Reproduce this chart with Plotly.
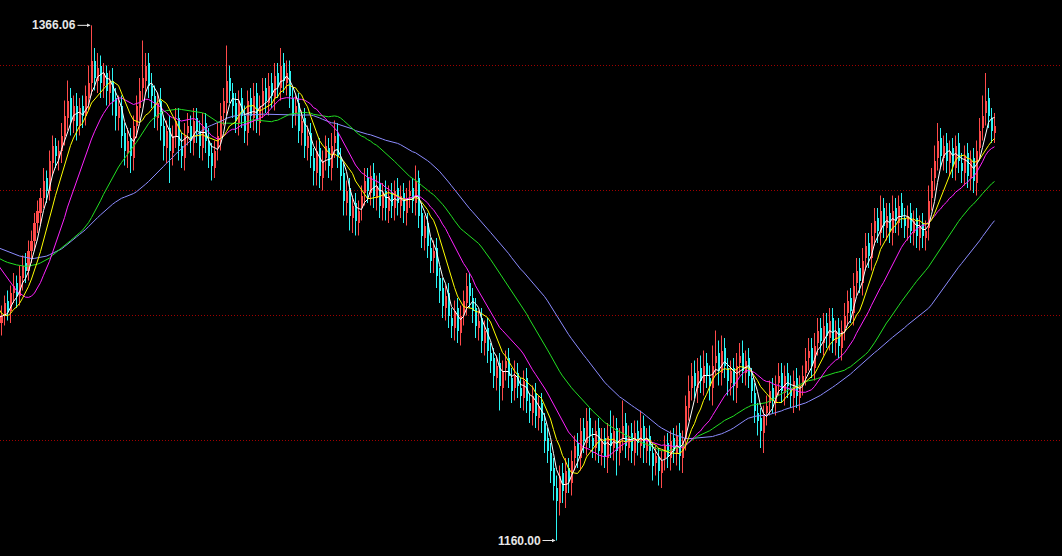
import plotly.graph_objects as go
import pandas as pd

# closes before the visible window (only used to seed the moving averages)
warmup_close = [
    1280, 1284, 1288, 1286, 1290, 1287, 1283, 1285, 1289, 1292,
    1288, 1284, 1281, 1285, 1288, 1284, 1280, 1283, 1286, 1282,
    1279, 1275, 1272, 1276, 1273, 1270, 1274, 1278, 1275, 1271,
    1273, 1277, 1280, 1276, 1279, 1282, 1278, 1274, 1277, 1281,
    1284, 1288, 1292, 1289, 1293, 1290, 1286, 1288, 1282, 1278,
    1270, 1262, 1255, 1250, 1246, 1248, 1252, 1249, 1246, 1251,
]

opens = [
    1247, 1250, 1256, 1252, 1259, 1263, 1258, 1265, 1271, 1268,
    1276, 1280, 1287, 1291, 1297, 1305, 1300, 1311, 1318, 1313,
    1316, 1322, 1329, 1337, 1328, 1334, 1326, 1334, 1330, 1337,
    1343, 1352, 1344, 1350, 1342, 1347, 1339, 1344, 1337, 1329,
    1334, 1323, 1315, 1321, 1313, 1326, 1333, 1341, 1344, 1351,
    1342, 1338, 1329, 1336, 1326, 1317, 1325, 1315, 1322, 1329,
    1318, 1313, 1323, 1326, 1319, 1329, 1324, 1317, 1327, 1320,
    1315, 1309, 1317, 1321, 1331, 1335, 1345, 1339, 1335, 1327,
    1337, 1330, 1323, 1337, 1329, 1339, 1327, 1334, 1341, 1335,
    1343, 1337, 1347, 1341, 1351, 1343, 1348, 1337, 1331, 1335,
    1323, 1329, 1317, 1323, 1313, 1307, 1317, 1305, 1313, 1317,
    1309, 1319, 1323, 1313, 1307, 1295, 1301, 1289, 1295, 1287,
    1293, 1299, 1305, 1299, 1307, 1297, 1303, 1293, 1300, 1292,
    1299, 1293, 1301, 1294, 1299, 1291, 1298, 1301, 1295, 1305,
    1291, 1281, 1287, 1277, 1273, 1277, 1265, 1261, 1253, 1259,
    1249, 1245, 1253, 1243, 1251, 1255, 1263, 1257, 1253, 1245,
    1249, 1239, 1245, 1235, 1233, 1225, 1231, 1221, 1229, 1233,
    1225, 1221, 1227, 1221, 1217, 1225, 1215, 1211, 1219, 1209,
    1215, 1207, 1201, 1195, 1189, 1181, 1175, 1187, 1179, 1189,
    1183, 1193, 1199, 1193, 1205, 1199, 1209, 1201, 1197, 1205,
    1195, 1201, 1193, 1203, 1197, 1205, 1195, 1201, 1207, 1197,
    1203, 1195, 1204, 1198, 1206, 1196, 1202, 1195, 1191, 1193,
    1187, 1193, 1199, 1193, 1201, 1195, 1203, 1193, 1201, 1213,
    1221, 1227, 1221, 1229, 1223, 1231, 1225, 1221, 1231, 1235,
    1227, 1237, 1229, 1223, 1229, 1221, 1231, 1235, 1227, 1233,
    1225, 1219, 1211, 1209, 1203, 1211, 1215, 1221, 1215, 1223,
    1227, 1219, 1227, 1221, 1217, 1225, 1217, 1223, 1227, 1233,
    1237, 1229, 1239, 1245, 1239, 1247, 1241, 1249, 1239, 1245,
    1237, 1245, 1251, 1257, 1251, 1263, 1269, 1263, 1273, 1279,
    1273, 1283, 1289, 1283, 1293, 1285, 1291, 1283, 1293, 1287,
    1295, 1289, 1285, 1291, 1283, 1289, 1281, 1287, 1281, 1285,
    1297, 1305, 1313, 1321, 1313, 1319, 1311, 1317, 1309, 1319,
    1311, 1307, 1315, 1305, 1313, 1303, 1317, 1325, 1331, 1337,
    1329, 1323,
]

highs = [
    1254, 1258, 1260, 1262, 1267, 1266, 1270, 1274, 1275, 1280,
    1284, 1291, 1296, 1301, 1309, 1308, 1316, 1322, 1321, 1320,
    1327, 1336, 1344, 1341, 1338, 1339, 1337, 1338, 1342, 1350,
    1366.06, 1357, 1355, 1354, 1351, 1350, 1348, 1349, 1341, 1338,
    1338, 1327, 1325, 1325, 1330, 1338, 1345, 1360, 1355, 1355,
    1347, 1342, 1339, 1341, 1330, 1328, 1330, 1326, 1333, 1333,
    1323, 1327, 1331, 1330, 1333, 1333, 1328, 1331, 1331, 1325,
    1319, 1320, 1327, 1335, 1341, 1358, 1350, 1343, 1339, 1340,
    1341, 1334, 1340, 1341, 1343, 1343, 1338, 1345, 1345, 1347,
    1347, 1351, 1351, 1357, 1355, 1352, 1352, 1341, 1338, 1339,
    1332, 1333, 1326, 1327, 1317, 1320, 1321, 1316, 1322, 1321,
    1323, 1328, 1327, 1317, 1311, 1304, 1305, 1298, 1299, 1296,
    1302, 1309, 1309, 1310, 1311, 1306, 1307, 1303, 1304, 1302,
    1303, 1304, 1305, 1302, 1303, 1301, 1304, 1305, 1310, 1308,
    1295, 1290, 1291, 1281, 1280, 1281, 1269, 1265, 1262, 1263,
    1253, 1256, 1257, 1254, 1260, 1267, 1267, 1261, 1257, 1252,
    1253, 1248, 1249, 1239, 1237, 1234, 1235, 1232, 1236, 1237,
    1229, 1232, 1231, 1225, 1228, 1229, 1219, 1222, 1223, 1218,
    1219, 1211, 1205, 1199, 1193, 1186, 1190, 1191, 1193, 1193,
    1196, 1202, 1203, 1209, 1209, 1213, 1213, 1205, 1208, 1209,
    1205, 1205, 1207, 1212, 1210, 1209, 1205, 1216, 1211, 1206,
    1207, 1208, 1208, 1212, 1210, 1205, 1206, 1199, 1198, 1197,
    1196, 1202, 1203, 1204, 1205, 1206, 1207, 1204, 1218, 1226,
    1231, 1232, 1233, 1234, 1236, 1235, 1230, 1238, 1244, 1240,
    1242, 1241, 1233, 1232, 1233, 1235, 1239, 1240, 1236, 1237,
    1229, 1223, 1215, 1213, 1214, 1218, 1224, 1225, 1226, 1231,
    1231, 1230, 1231, 1226, 1228, 1229, 1226, 1230, 1237, 1241,
    1241, 1243, 1249, 1249, 1251, 1251, 1253, 1253, 1248, 1249,
    1248, 1255, 1260, 1261, 1267, 1273, 1273, 1277, 1283, 1283,
    1287, 1293, 1293, 1298, 1297, 1295, 1295, 1298, 1297, 1298,
    1299, 1293, 1294, 1295, 1292, 1293, 1290, 1291, 1288, 1302,
    1309, 1318, 1327, 1325, 1322, 1323, 1320, 1321, 1322, 1323,
    1315, 1318, 1319, 1316, 1317, 1320, 1329, 1338, 1347, 1341,
    1333, 1331,
]

lows = [
    1242, 1246, 1248, 1247, 1255, 1253, 1254, 1260, 1263, 1264,
    1271, 1276, 1283, 1286, 1293, 1295, 1296, 1306, 1309, 1308,
    1311, 1318, 1324, 1322, 1323, 1320, 1322, 1325, 1326, 1332,
    1338, 1340, 1339, 1337, 1337, 1334, 1334, 1330, 1324, 1324,
    1317, 1310, 1309, 1307, 1308, 1321, 1328, 1336, 1339, 1337,
    1333, 1325, 1324, 1320, 1312, 1311, 1303, 1310, 1317, 1312,
    1309, 1308, 1318, 1315, 1314, 1319, 1313, 1312, 1315, 1309,
    1304, 1305, 1312, 1316, 1326, 1330, 1335, 1329, 1323, 1322,
    1325, 1319, 1318, 1325, 1324, 1323, 1322, 1329, 1331, 1330,
    1333, 1332, 1337, 1336, 1339, 1338, 1333, 1325, 1326, 1319,
    1318, 1313, 1312, 1309, 1302, 1302, 1301, 1300, 1308, 1305,
    1304, 1313, 1309, 1300, 1290, 1290, 1284, 1283, 1282, 1282,
    1288, 1294, 1295, 1294, 1293, 1292, 1289, 1288, 1288, 1287,
    1289, 1288, 1290, 1289, 1287, 1286, 1293, 1291, 1290, 1285,
    1277, 1276, 1273, 1267, 1267, 1261, 1255, 1249, 1248, 1245,
    1241, 1240, 1239, 1238, 1246, 1250, 1253, 1247, 1241, 1240,
    1235, 1234, 1231, 1227, 1221, 1220, 1212, 1216, 1224, 1221,
    1215, 1216, 1217, 1213, 1212, 1211, 1207, 1206, 1205, 1204,
    1203, 1195, 1191, 1183, 1176, 1160.00, 1170, 1175, 1173, 1179,
    1178, 1188, 1189, 1188, 1195, 1194, 1197, 1193, 1192, 1191,
    1190, 1189, 1187, 1193, 1192, 1186, 1190, 1196, 1193, 1192,
    1191, 1190, 1194, 1193, 1191, 1191, 1190, 1184, 1186, 1182,
    1181, 1188, 1189, 1188, 1191, 1190, 1188, 1187, 1196, 1208,
    1216, 1217, 1215, 1219, 1218, 1221, 1216, 1214, 1226, 1222,
    1222, 1225, 1218, 1218, 1216, 1215, 1226, 1223, 1222, 1221,
    1215, 1207, 1202, 1197, 1195, 1206, 1210, 1211, 1210, 1218,
    1215, 1214, 1217, 1213, 1211, 1213, 1212, 1218, 1222, 1228,
    1225, 1224, 1234, 1235, 1234, 1237, 1236, 1235, 1234, 1233,
    1232, 1240, 1246, 1247, 1246, 1258, 1259, 1258, 1268, 1269,
    1268, 1278, 1279, 1278, 1281, 1280, 1279, 1278, 1283, 1282,
    1285, 1281, 1280, 1279, 1278, 1277, 1276, 1277, 1276, 1280,
    1292, 1300, 1308, 1309, 1308, 1307, 1306, 1305, 1304, 1307,
    1303, 1302, 1301, 1300, 1299, 1298, 1312, 1320, 1326, 1325,
    1319, 1319,
]

closes = [
    1250, 1255, 1252, 1259, 1262, 1258, 1266, 1270, 1268, 1276,
    1280, 1287, 1292, 1297, 1304, 1300, 1312, 1318, 1314, 1316,
    1322, 1330, 1336, 1328, 1334, 1326, 1333, 1330, 1338, 1343,
    1352, 1345, 1349, 1343, 1347, 1340, 1344, 1336, 1330, 1334,
    1322, 1316, 1320, 1314, 1326, 1334, 1340, 1345, 1350, 1342,
    1338, 1330, 1335, 1326, 1318, 1324, 1316, 1322, 1328, 1318,
    1314, 1322, 1326, 1320, 1328, 1324, 1318, 1326, 1320, 1314,
    1310, 1316, 1322, 1330, 1336, 1344, 1340, 1334, 1328, 1336,
    1330, 1324, 1336, 1330, 1338, 1328, 1334, 1340, 1336, 1342,
    1338, 1346, 1342, 1350, 1344, 1347, 1338, 1330, 1334, 1324,
    1328, 1318, 1322, 1314, 1308, 1316, 1306, 1312, 1318, 1310,
    1318, 1322, 1314, 1306, 1296, 1300, 1290, 1294, 1288, 1292,
    1298, 1304, 1300, 1306, 1298, 1302, 1294, 1299, 1293, 1298,
    1294, 1300, 1295, 1298, 1292, 1297, 1300, 1296, 1304, 1290,
    1282, 1286, 1278, 1272, 1276, 1266, 1260, 1254, 1258, 1250,
    1246, 1252, 1244, 1250, 1256, 1262, 1258, 1252, 1246, 1248,
    1240, 1244, 1236, 1232, 1226, 1230, 1222, 1228, 1232, 1226,
    1220, 1226, 1222, 1218, 1224, 1216, 1212, 1218, 1210, 1214,
    1208, 1200, 1196, 1188, 1182, 1176, 1186, 1180, 1188, 1184,
    1192, 1198, 1194, 1204, 1200, 1208, 1202, 1198, 1204, 1196,
    1200, 1194, 1202, 1198, 1204, 1196, 1200, 1206, 1198, 1202,
    1196, 1203, 1199, 1205, 1197, 1201, 1196, 1190, 1194, 1188,
    1192, 1198, 1194, 1200, 1196, 1202, 1194, 1200, 1214, 1220,
    1226, 1222, 1228, 1224, 1230, 1226, 1222, 1230, 1234, 1228,
    1236, 1230, 1224, 1228, 1222, 1230, 1234, 1228, 1232, 1226,
    1220, 1212, 1208, 1204, 1210, 1214, 1220, 1216, 1222, 1226,
    1220, 1226, 1222, 1218, 1224, 1218, 1222, 1226, 1232, 1236,
    1230, 1238, 1244, 1240, 1246, 1242, 1248, 1240, 1244, 1238,
    1244, 1250, 1256, 1252, 1262, 1268, 1264, 1272, 1278, 1274,
    1282, 1288, 1284, 1292, 1286, 1290, 1284, 1292, 1288, 1294,
    1290, 1286, 1290, 1284, 1288, 1282, 1286, 1282, 1284, 1296,
    1304, 1312, 1320, 1314, 1318, 1312, 1316, 1310, 1318, 1312,
    1308, 1314, 1306, 1312, 1304, 1316, 1324, 1330, 1336, 1330,
    1324, 1326,
]

ma_periods = [60, 40, 20, 10, 5]
ma_colors = ["#8C8CFF", "#22E022", "#FF22FF", "#FFFF00", "#FFFFFF"]
grid_levels = [1200, 1250, 1300, 1350]
UP = "#FF4A4A"
DOWN = "#2CF4F4"

n = len(closes)
bar_x = list(range(n))
up = [closes[i] >= opens[i] for i in range(n)]

fig = go.Figure()

# dotted horizontal guide lines at the price levels
for lv in grid_levels:
    fig.add_hline(y=lv, line=dict(color="#A00000", width=1, dash="1px,2px"), layer="below")

# wicks (high-low) drawn as vertical segments per colour
for flag, col in ((True, UP), (False, DOWN)):
    wx, wy = [], []
    for i in range(n):
        if up[i] == flag:
            wx += [i, i, None]
            wy += [lows[i], highs[i], None]
    fig.add_trace(go.Scatter(x=wx, y=wy, mode="lines", line=dict(color=col, width=1),
                             hoverinfo="skip", showlegend=False))

# bodies (open-close)
fig.add_trace(go.Bar(
    x=bar_x,
    base=[min(opens[i], closes[i]) for i in range(n)],
    y=[max(abs(closes[i] - opens[i]), 0.4) for i in range(n)],
    width=0.67,
    marker=dict(color=[UP if u else DOWN for u in up], line=dict(width=0)),
    hoverinfo="skip", showlegend=False,
))

all_close = pd.Series(warmup_close + closes, dtype=float)
all_x = list(range(-len(warmup_close), n))
start = len(warmup_close) - 1
for p, col in zip(ma_periods, ma_colors):
    ma = all_close.rolling(p).mean()
    fig.add_trace(go.Scatter(
        x=all_x[start:], y=ma.iloc[start:], mode="lines",
        line=dict(color=col, width=1), hoverinfo="skip", showlegend=False,
    ))

hi_idx = max(range(n), key=lambda i: highs[i])
lo_idx = min(range(n), key=lambda i: lows[i])
lab_font = dict(family="Arial", size=12, color="#E6E6E6")
for idx, val in ((hi_idx, highs[hi_idx]), (lo_idx, lows[lo_idx])):
    fig.add_annotation(x=idx, y=val, text="<b>%.2f</b>" % val,
                       showarrow=True, ax=-14, ay=0, xanchor="right", yanchor="middle",
                       arrowhead=2, arrowsize=0.7, arrowwidth=1, arrowcolor="#E6E6E6",
                       standoff=1, font=lab_font)

fig.update_layout(
    width=1062, height=556,
    margin=dict(l=0, r=0, t=0, b=0),
    paper_bgcolor="#000000", plot_bgcolor="#000000",
    showlegend=False, bargap=0,
    xaxis=dict(range=[-0.5, 353.5], showgrid=False, zeroline=False,
               showticklabels=False, fixedrange=True),
    yaxis=dict(range=[1153.8, 1376.2], showgrid=False,
               zeroline=False, showticklabels=False, fixedrange=True),
)

fig.write_html("out.html", config={"displayModeBar": False},
               post_script="document.body.style.margin='0';document.body.style.background='#000';")
